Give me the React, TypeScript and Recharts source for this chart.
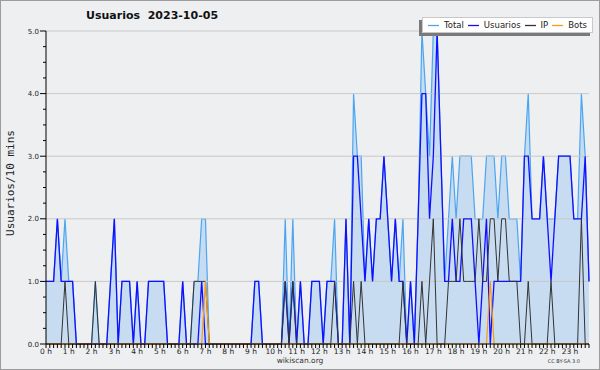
import {
  ComposedChart,
  Area,
  Line,
  XAxis,
  YAxis,
  ReferenceLine,
} from 'recharts';

// one value per 10-minute slot, 144 slots over the day
const TOTAL = [
  1, 1, 1, 2, 1, 2, 1, 1, 0, 0,
  0, 0, 0, 1, 0, 0, 0, 1, 2, 0,
  1, 1, 1, 0, 1, 0, 0, 1, 1, 1,
  1, 1, 0, 0, 0, 0, 1, 0, 0, 1,
  1, 2, 2, 0, 0, 0, 0, 0, 0, 0,
  0, 0, 0, 0, 0, 1, 1, 0, 0, 0,
  0, 0, 0, 2, 0, 2, 0, 1, 0, 0,
  1, 1, 1, 0, 1, 1, 2, 0, 0, 2,
  0, 4, 3, 3, 1, 2, 1, 2, 2, 3,
  2, 1, 2, 1, 2, 0, 1, 0, 2, 5,
  4, 3, 5, 5, 3, 1, 2, 3, 2, 3,
  3, 3, 3, 2, 2, 2, 3, 3, 3, 2,
  3, 3, 2, 2, 2, 1, 3, 4, 2, 2,
  2, 3, 2, 2, 2, 3, 3, 3, 3, 2,
  2, 4, 3, 1,
];

const USUARIOS = [
  1, 1, 1, 2, 1, 1, 1, 1, 0, 0,
  0, 0, 0, 0, 0, 0, 0, 1, 2, 0,
  1, 1, 1, 0, 1, 0, 0, 1, 1, 1,
  1, 1, 0, 0, 0, 0, 1, 0, 0, 0,
  0, 1, 0, 0, 0, 0, 0, 0, 0, 0,
  0, 0, 0, 0, 0, 1, 1, 0, 0, 0,
  0, 0, 0, 1, 0, 1, 0, 1, 0, 0,
  1, 1, 1, 0, 1, 1, 1, 0, 0, 2,
  0, 3, 3, 2, 1, 2, 1, 2, 2, 3,
  2, 1, 2, 1, 1, 0, 1, 0, 2, 4,
  4, 2, 3, 5, 3, 1, 1, 2, 1, 1,
  2, 2, 2, 1, 0, 1, 2, 0, 1, 1,
  1, 1, 1, 1, 1, 1, 3, 3, 2, 2,
  2, 3, 2, 1, 2, 3, 3, 3, 3, 2,
  2, 2, 3, 1,
];

const IP = [
  0, 0, 0, 0, 0, 1, 0, 0, 0, 0,
  0, 0, 0, 1, 0, 0, 0, 0, 0, 0,
  0, 0, 0, 0, 0, 0, 0, 0, 0, 0,
  0, 0, 0, 0, 0, 0, 0, 0, 0, 1,
  1, 1, 1, 0, 0, 0, 0, 0, 0, 0,
  0, 0, 0, 0, 0, 0, 0, 0, 0, 0,
  0, 0, 0, 1, 0, 1, 0, 0, 0, 0,
  0, 0, 0, 0, 0, 0, 1, 0, 0, 0,
  0, 1, 0, 1, 0, 0, 0, 0, 0, 0,
  0, 0, 0, 0, 1, 0, 0, 0, 0, 1,
  0, 1, 2, 0, 0, 0, 1, 1, 1, 2,
  1, 1, 1, 1, 2, 1, 1, 2, 2, 1,
  2, 2, 1, 1, 1, 0, 0, 1, 0, 0,
  0, 0, 0, 1, 0, 0, 0, 0, 0, 0,
  0, 2, 0, 0,
];

const BOTS = [
  0, 0, 0, 0, 0, 0, 0, 0, 0, 0,
  0, 0, 0, 0, 0, 0, 0, 0, 0, 0,
  0, 0, 0, 0, 0, 0, 0, 0, 0, 0,
  0, 0, 0, 0, 0, 0, 0, 0, 0, 0,
  0, 0, 1, 0, 0, 0, 0, 0, 0, 0,
  0, 0, 0, 0, 0, 0, 0, 0, 0, 0,
  0, 0, 0, 0, 0, 0, 0, 0, 0, 0,
  0, 0, 0, 0, 0, 0, 0, 0, 0, 0,
  0, 0, 0, 0, 0, 0, 0, 0, 0, 0,
  0, 0, 0, 0, 0, 0, 0, 0, 0, 0,
  0, 0, 0, 0, 0, 0, 0, 0, 0, 0,
  0, 0, 0, 0, 0, 0, 0, 1, 0, 0,
  0, 0, 0, 0, 0, 0, 0, 0, 0, 0,
  0, 0, 0, 0, 0, 0, 0, 0, 0, 0,
  0, 0, 0, 0,
];

const HOUR_LABELS = [
  '0 h', '1 h', '2 h', '3 h', '4 h', '5 h', '6 h', '7 h', '8 h', '9 h', '10 h', '11 h',
  '12 h', '13 h', '14 h', '15 h', '16 h', '17 h', '18 h', '19 h', '20 h', '21 h', '22 h', '23 h',
];
const Y_TICKS = [
  0, 0.25, 0.5, 0.75, 1, 1.25, 1.5, 1.75, 2, 2.25, 2.5, 2.75, 3,
  3.25, 3.5, 3.75, 4, 4.25, 4.5, 4.75, 5,
];
const GRID_VALUES = [1, 2, 3, 4, 5];

const TITLE = 'Usuarios  2023-10-05';
const Y_LABEL = 'Usuarios/10 mins';

const FONT = '"DejaVu Sans", sans-serif';
const BG = '#eeeff1';
const TOTAL_COLOR = '#4aa6f2';
const TOTAL_FILL = '#64aaf0';
const USUARIOS_COLOR = '#1010ff';
const IP_COLOR = '#333333';
const BOTS_COLOR = '#ff9a10';

const data = TOTAL.map((t, i) => ({
  i,
  total: t,
  usuarios: USUARIOS[i],
  ip: IP[i],
  bots: BOTS[i],
}));
const slotTicks = TOTAL.map((_, i) => i);

function HourTick({ x, y, payload }: any) {
  const v = payload.value as number;
  if (v % 6 !== 0) return <g />;
  return (
    <text x={x} y={y} dy={4.5} textAnchor="middle" fontSize={7.5} fontFamily={FONT} fill="#222">
      {HOUR_LABELS[v / 6]}
    </text>
  );
}

function ValueTick({ x, y, payload }: any) {
  const v = payload.value as number;
  const major = Number.isInteger(v);
  return (
    <g>
      <line x1={x - (major ? 6 : 3)} x2={x} y1={y} y2={y} stroke="#000" strokeWidth={1} />
      {major && (
        <text x={x - 7} y={y} dy={2.5} textAnchor="end" fontSize={7} fontFamily={FONT} fill="#222">
          {v.toFixed(1)}
        </text>
      )}
    </g>
  );
}

function LegendItem({ color, label }: { color: string; label: string }) {
  return (
    <span style={{ display: 'inline-flex', alignItems: 'center', marginRight: 4 }}>
      <svg width={11} height={3} style={{ marginRight: 5 }}>
        <line x1={0} x2={11} y1={1.5} y2={1.5} stroke={color} strokeWidth={1.3} />
      </svg>
      {label}
    </span>
  );
}

export default function App() {
  return (
    <div
      style={{
        position: 'absolute',
        left: 0,
        top: 0,
        width: 600,
        height: 370,
        background: BG,
        fontFamily: FONT,
        overflow: 'hidden',
      }}
    >
      <ComposedChart
        width={600}
        height={370}
        data={data}
        margin={{ top: 31, right: 11, bottom: 0, left: 0 }}
      >
        {GRID_VALUES.map((v) => (
          <ReferenceLine key={v} y={v} stroke="#c9c9c9" strokeWidth={1} />
        ))}
        <XAxis
          type="number"
          dataKey="i"
          domain={[0, 143]}
          ticks={slotTicks}
          interval={0}
          height={26}
          tickSize={4}
          tickMargin={1}
          tickLine={{ stroke: '#000' }}
          axisLine={{ stroke: '#000' }}
          tick={HourTick}
        />
        <YAxis
          type="number"
          domain={[0, 5]}
          ticks={Y_TICKS}
          interval={0}
          width={46}
          tickSize={0}
          tickMargin={0}
          tickLine={false}
          axisLine={{ stroke: '#000' }}
          tick={ValueTick}
        />
        <Area
          type="linear"
          dataKey="total"
          stroke={TOTAL_COLOR}
          strokeWidth={1.2}
          fill={TOTAL_FILL}
          fillOpacity={0.28}
          dot={false}
          activeDot={false}
          isAnimationActive={false}
        />
        <Line
          type="linear"
          dataKey="usuarios"
          stroke={USUARIOS_COLOR}
          strokeWidth={1.3}
          dot={false}
          activeDot={false}
          isAnimationActive={false}
        />
        <Line
          type="linear"
          dataKey="ip"
          stroke={IP_COLOR}
          strokeWidth={1}
          dot={false}
          activeDot={false}
          isAnimationActive={false}
        />
        <Line
          type="linear"
          dataKey="bots"
          stroke={BOTS_COLOR}
          strokeWidth={1.2}
          dot={false}
          activeDot={false}
          isAnimationActive={false}
        />
      </ComposedChart>

      <div
        style={{
          position: 'absolute',
          left: 86,
          top: 9,
          fontSize: 11,
          fontWeight: 'bold',
          whiteSpace: 'pre',
          color: '#111',
        }}
      >
        {TITLE}
      </div>

      <div
        style={{
          position: 'absolute',
          left: 10,
          top: 183,
          width: 200,
          textAlign: 'center',
          fontSize: 11,
          fontFamily: '"DejaVu Sans Mono", monospace',
          color: '#222',
          transform: 'translate(-50%, -50%) rotate(-90deg)',
        }}
      >
        {Y_LABEL}
      </div>

      <div
        style={{
          position: 'absolute',
          left: 422,
          top: 17,
          width: 171,
          height: 16,
          boxSizing: 'border-box',
          background: '#fff',
          border: '1px solid #c8c8c8',
          boxShadow: '-3px 3px 0 #7a7a7a',
          fontSize: 8.5,
          color: '#222',
          display: 'flex',
          alignItems: 'center',
          paddingLeft: 5,
          whiteSpace: 'nowrap',
        }}
      >
        <LegendItem color={TOTAL_COLOR} label="Total" />
        <LegendItem color={USUARIOS_COLOR} label="Usuarios" />
        <LegendItem color={IP_COLOR} label="IP" />
        <LegendItem color={BOTS_COLOR} label="Bots" />
      </div>

      <div
        style={{
          position: 'absolute',
          left: 200,
          width: 200,
          top: 356,
          textAlign: 'center',
          fontSize: 7.5,
          color: '#333',
        }}
      >
        wikiscan.org
      </div>
      <div
        style={{
          position: 'absolute',
          right: 20,
          top: 358,
          fontSize: 5,
          color: '#333',
        }}
      >
        CC BY-SA 3.0
      </div>

      <div
        style={{
          position: 'absolute',
          inset: 0,
          border: '1px solid #9c9c9c',
          pointerEvents: 'none',
        }}
      />
    </div>
  );
}
